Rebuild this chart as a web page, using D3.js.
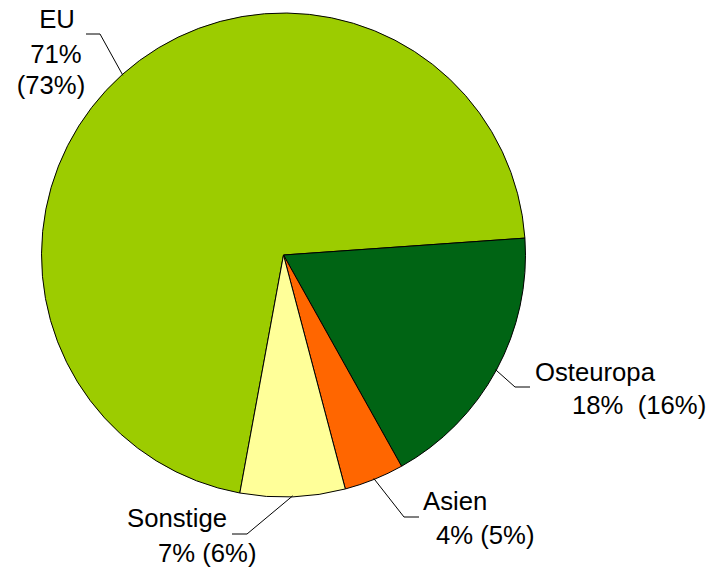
<!DOCTYPE html>
<html>
<head>
<meta charset="utf-8">
<script src="https://cdn.jsdelivr.net/npm/d3@7"></script>
<style>
  body { margin: 0; background: #fff; }
  svg { display: block; font-family: Arial, "Liberation Sans", sans-serif; }
</style>
</head>
<body>
<div id="chart"></div>
<script>
// data
const categories = ["EU", "Osteuropa", "Asien", "Sonstige"];
const shares = [71, 18, 4, 7];          // current share, %
const prevShares = [73, 16, 5, 6];      // previous share, %
const colors = ["#9ccc00", "#006414", "#ff6600", "#ffff99"];

const width = 709, height = 570;
const cx = 283.5, cy = 255, radius = 242;

// label layout: elbow of the leader line, end of the horizontal part, text lines
const labelLayout = {
  "EU":        { elbow: [100, 34],  end: [86, 34],   lines: [[57, 28, "middle"], [56, 63, "middle"], [51, 94, "middle"]] },
  "Osteuropa": { elbow: [515, 387], end: [530, 387], lines: [[535, 381, "start"], [572, 414, "start"]] },
  "Asien":     { elbow: [404, 517], end: [419, 517], lines: [[423, 510, "start"], [436, 544, "start"]] },
  "Sonstige":  { elbow: [247, 534], end: [232, 534], lines: [[127, 527, "start"], [158, 562, "start"]] }
};

const data = categories.map((c, i) => ({ name: c, value: shares[i], prev: prevShares[i], color: colors[i] }));

const total = d3.sum(shares);
// Osteuropa starts just above 3 o'clock, so EU has to start 71% before that
const startDeg = 86 - 360 * shares[0] / total;

const pie = d3.pie()
  .sort(null)
  .value(d => d.value)
  .startAngle(startDeg * Math.PI / 180)
  .endAngle((startDeg + 360) * Math.PI / 180);

const arc = d3.arc()
  .innerRadius(0)
  .outerRadius(radius);

const svg = d3.select("#chart")
  .append("svg")
  .attr("width", width)
  .attr("height", height);

const g = svg.append("g")
  .attr("transform", "translate(" + cx + "," + cy + ")");

const arcs = pie(data);

g.selectAll("path.slice")
  .data(arcs)
  .enter().append("path")
  .attr("class", "slice")
  .attr("d", arc)
  .attr("fill", d => d.data.color)
  .attr("stroke", "#000")
  .attr("stroke-width", 1)
  .attr("stroke-linejoin", "round");

// leader lines + labels
arcs.forEach(d => {
  const lay = labelLayout[d.data.name];
  const mid = (d.startAngle + d.endAngle) / 2;
  const sx = cx + (radius - 1) * Math.sin(mid);
  const sy = cy - (radius - 1) * Math.cos(mid);

  svg.append("polyline")
    .attr("points", [[sx, sy], lay.elbow, lay.end].map(p => p.join(",")).join(" "))
    .attr("fill", "none")
    .attr("stroke", "#000")
    .attr("stroke-width", 1);

  let texts;
  if (d.data.name === "EU") {
    texts = [d.data.name, d.data.value + "%", "(" + d.data.prev + "%)"];
  } else if (d.data.name === "Osteuropa") {
    texts = [d.data.name, d.data.value + "%\u00a0\u00a0(" + d.data.prev + "%)"];
  } else {
    texts = [d.data.name, d.data.value + "% (" + d.data.prev + "%)"];
  }

  texts.forEach((t, i) => {
    const ln = lay.lines[i];
    svg.append("text")
      .attr("x", ln[0])
      .attr("y", ln[1])
      .attr("text-anchor", ln[2])
      .attr("font-size", 25.7)
      .attr("fill", "#000")
      .text(t);
  });
});
</script>
</body>
</html>
